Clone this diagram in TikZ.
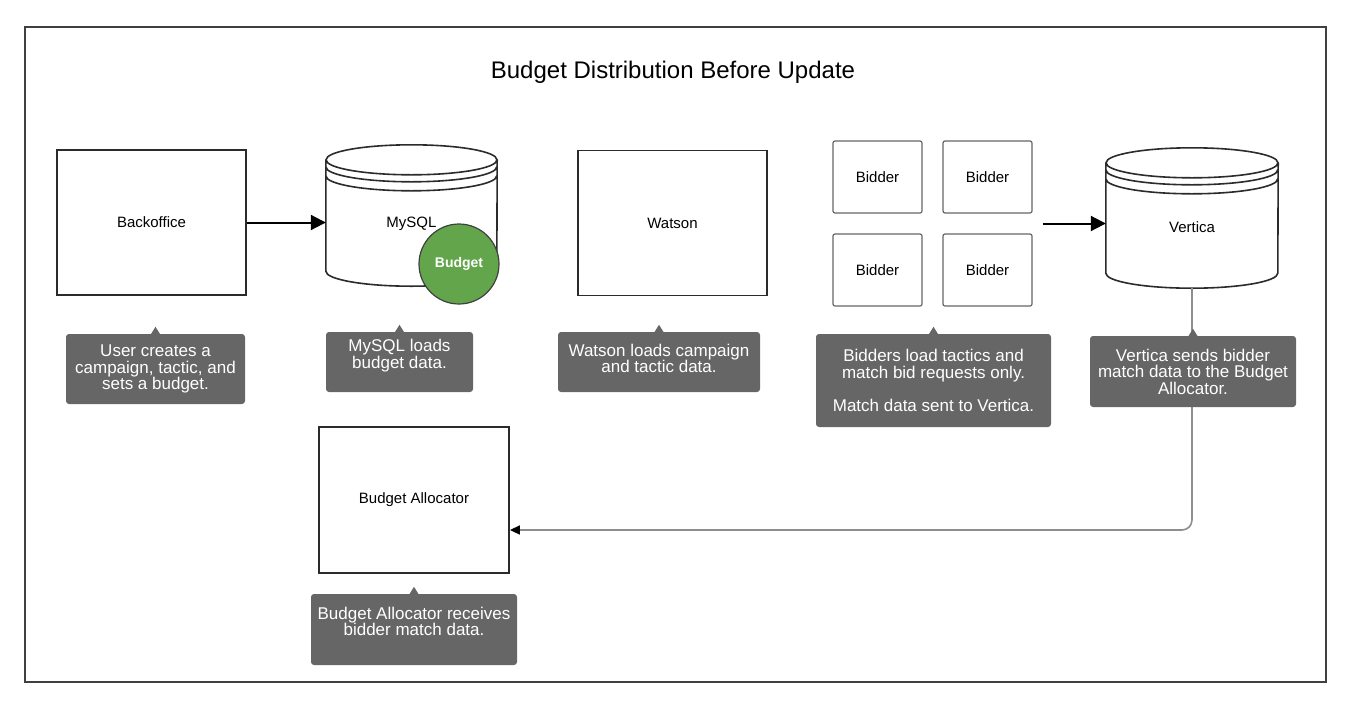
\documentclass[tikz,border=0pt]{standalone}
\usepackage{fontspec}
\setmainfont{Liberation Sans}
\usetikzlibrary{calc, arrows.meta, fit}

\definecolor{notegray}{HTML}{666666}
\definecolor{budgetgreen}{HTML}{62A54A}
\definecolor{linkgray}{HTML}{8E8E8E}
\definecolor{boxline}{HTML}{2B2B2B}

% --- Contour "datastore" autour d'un noeud : #1 = noeud, #2 = demi-largeur ---
\newcommand{\drawstore}[2]{%
  \draw[boxline, line width=1.6pt, fill=white]
    ($(#1.north west)+(0,15)$) -- ($(#1.south west)+(0,-15)$)
    arc[start angle=180, end angle=360, x radius=#2pt, y radius=15pt]
    -- ($(#1.north east)+(0,15)$)
    ($(#1.north west)+(0,22)$)
    arc[start angle=180, end angle=360, x radius=#2pt, y radius=15pt]
    ($(#1.north west)+(0,31)$)
    arc[start angle=180, end angle=360, x radius=#2pt, y radius=15pt]
    ($(#1.north)+(0,15)$) ellipse [x radius=#2pt, y radius=15pt];
}

% --- Petite pointe au-dessus d'une bulle ---
\newcommand{\notetip}[1]{%
  \fill[notegray] ($(#1.north)+(-5,1)$) -- ($(#1.north)+(0,-7)$)
    -- ($(#1.north)+(5,1)$) -- cycle;
}

\begin{document}
\begin{tikzpicture}[x=1pt, y=-1pt,
    box/.style={draw=boxline, line width=1.8pt, fill=white,
                minimum width=189pt, minimum height=145pt,
                font=\fontsize{15}{15}\selectfont},
    bidder/.style={draw=black!60, line width=1.2pt, rounded corners=2pt,
                   minimum width=89pt, minimum height=72pt,
                   font=\fontsize{15}{15}\selectfont},
    store/.style={inner sep=0pt},
    storetext/.style={font=\fontsize{15}{15}\selectfont},
    note/.style={fill=notegray, rounded corners=3pt, text=white,
                 align=center, inner sep=0pt,
                 font=\fontsize{17}{16.5}\selectfont},
    flow/.style={black, line width=2pt, -{Triangle[length=15pt, width=15pt]}},
    feed/.style={linkgray, line width=1.6pt, rounded corners=10pt,
                 -{Triangle[length=10pt, width=9pt, black]}}]

  \useasboundingbox (0,0) rectangle (1369,721);

  % --- Cadre et titre ---
  \draw[black!75, line width=1.5pt] (25,27) rectangle (1326,682);
  \node[font=\fontsize{24}{24}\selectfont] (title) at (673,72)
    {Budget Distribution Before Update};

  % --- Backoffice ---
  \node[box] (back) at (151.5,222.5) {Backoffice};

  % --- MySQL ---
  \node[store, minimum width=171pt, minimum height=141pt] (mysql) at (411.5,215.5) {};
  \drawstore{mysql}{85.5}
  \node[storetext] (mysqltxt) at ($(mysql.center)+(0,8)$) {MySQL};
  \node[circle, fill=budgetgreen, draw=black!75, line width=1.2pt,
        minimum size=80pt, text=white,
        font=\fontsize{14}{14}\selectfont\bfseries] (budget) at (459,264) {Budget};

  % --- Watson ---
  \node[box] (watson) at (672.5,223) {Watson};

  % --- Bidders ---
  \node[bidder] (bid1) at (877.5,177) {Bidder};
  \node[bidder] (bid2) at (987.5,177) {Bidder};
  \node[bidder] (bid3) at (877.5,270) {Bidder};
  \node[bidder] (bid4) at (987.5,270) {Bidder};
  \node[fit=(bid1)(bid4), inner sep=10pt] (bidders) {};

  % --- Vertica ---
  \node[store, minimum width=172pt, minimum height=140pt] (vertica) at (1192,218) {};
  \drawstore{vertica}{86}
  \node[storetext] (verticatxt) at ($(vertica.center)+(0,9)$) {Vertica};

  % --- Budget Allocator ---
  \node[box, minimum width=190pt, minimum height=146pt] (alloc) at (414,500) {Budget Allocator};

  % --- Liens ---
  \draw[flow] (back.east) -- (back.east -| mysql.west);
  \draw[flow] (bidders.east) -- (bidders.east -| vertica.west);
  \coordinate (allocin) at ($(alloc.east)+(0,30)$);
  \draw[feed] (vertica.south) |- (allocin);

  % --- Bulles ---
  \node[note, minimum width=179pt, minimum height=70pt] (n1) at (155.5,369)
    {User creates a\\campaign, tactic, and\\sets a budget.};
  \node[note, minimum width=147pt, minimum height=60pt] (n2) at (399.5,362)
    {MySQL loads\\budget data.\\\mbox{}};
  \node[note, minimum width=202pt, minimum height=60pt] (n3) at (659,362)
    {Watson loads campaign\\and tactic data.\\[-9pt]\mbox{}};
  \node[note, minimum width=235pt, minimum height=93pt] (n4) at (933.5,380.5)
    {Bidders load tactics and\\match bid requests only.\\[16.5pt]Match data sent to Vertica.};
  \node[note, minimum width=206pt, minimum height=71pt] (n5) at (1193,371.5)
    {Vertica sends bidder\\match data to the Budget\\Allocator.};
  \node[note, minimum width=206pt, minimum height=71pt] (n6) at (414,629.5)
    {Budget Allocator receives\\bidder match data.\\\mbox{}};
  \foreach \n in {n1,n2,n3,n4,n5,n6} {\notetip{\n}}

\end{tikzpicture}
\end{document}
